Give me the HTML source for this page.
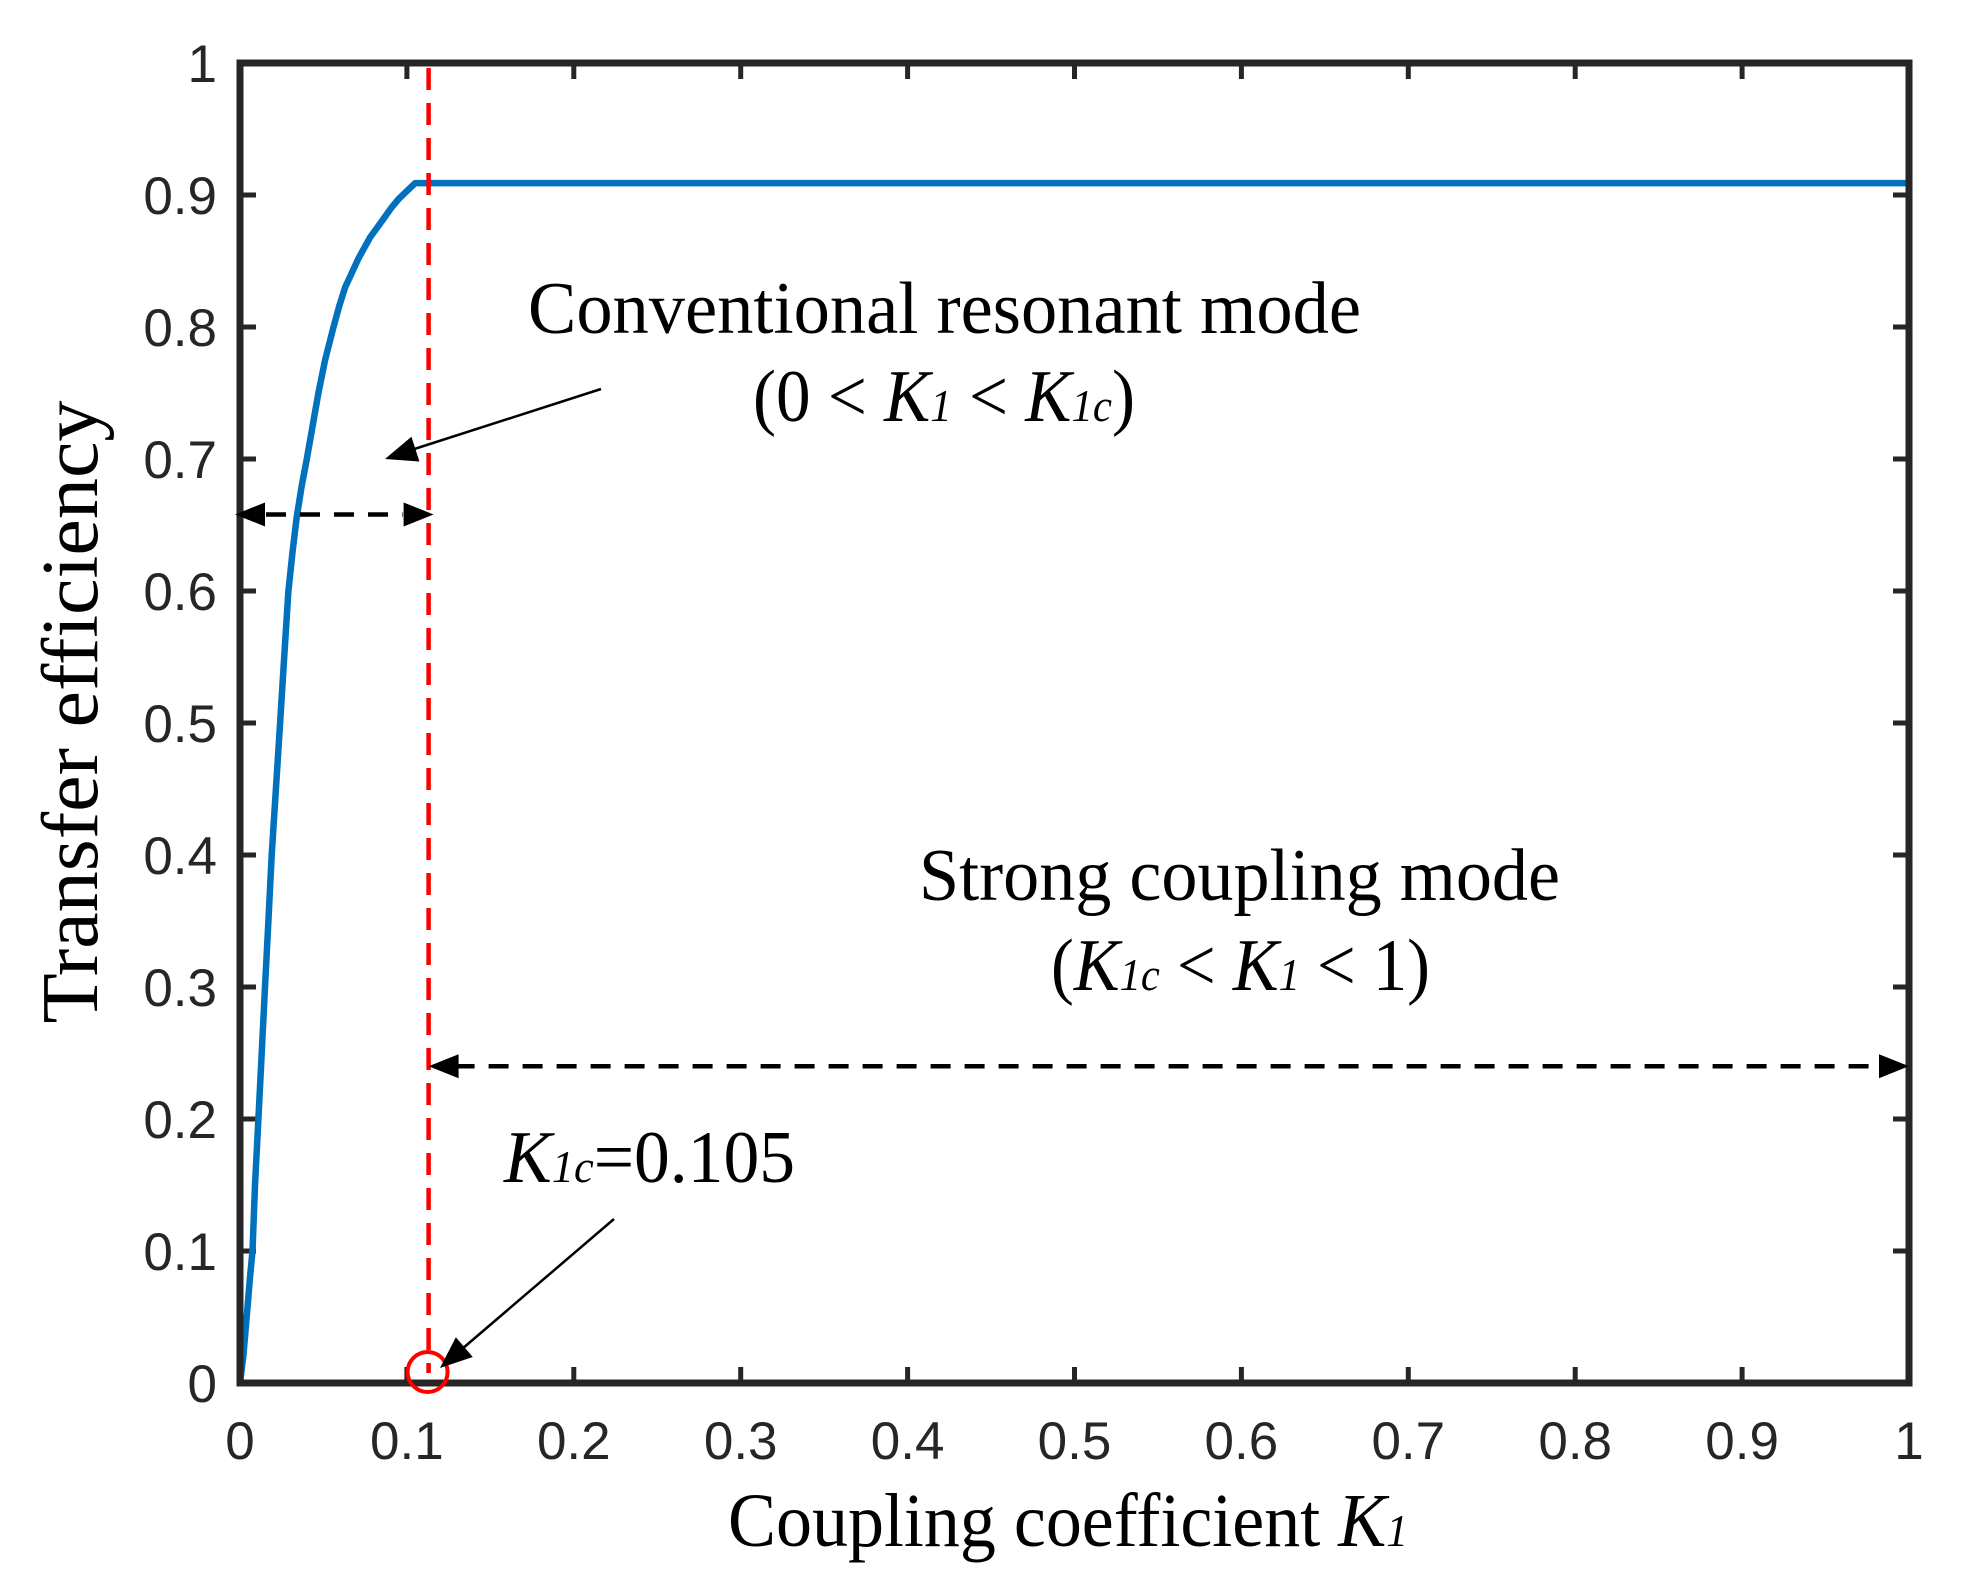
<!DOCTYPE html>
<html><head><meta charset="utf-8"><style>
html,body{margin:0;padding:0;background:#fff;}
svg{display:block;}
.tick{font-family:"Liberation Sans",Arial,sans-serif;font-size:53px;fill:#262626;}
.serif{font-family:"Liberation Serif","Times New Roman",serif;fill:#000;}
</style></head><body>
<svg id="chart" width="1963" height="1580" viewBox="0 0 1963 1580" xmlns="http://www.w3.org/2000/svg">
<g id="plot"></g>
<text class="serif" x="528" y="333" font-size="74" textLength="833" lengthAdjust="spacingAndGlyphs">Conventional resonant mode</text>
<text class="serif" x="753" y="421" font-size="74" textLength="382" lengthAdjust="spacingAndGlyphs">(0 &lt; <tspan font-style="italic">K</tspan><tspan font-style="italic" font-size="46">1</tspan> &lt; <tspan font-style="italic">K</tspan><tspan font-style="italic" font-size="46">1c</tspan>)</text>
<text class="serif" x="919" y="900" font-size="74" textLength="641" lengthAdjust="spacingAndGlyphs">Strong coupling mode</text>
<text class="serif" x="1051" y="990" font-size="74" textLength="379" lengthAdjust="spacingAndGlyphs">(<tspan font-style="italic">K</tspan><tspan font-style="italic" font-size="46">1c</tspan> &lt; <tspan font-style="italic">K</tspan><tspan font-style="italic" font-size="46">1</tspan> &lt; 1)</text>
<text class="serif" x="504" y="1182" font-size="74" textLength="291" lengthAdjust="spacingAndGlyphs"><tspan font-style="italic">K</tspan><tspan font-style="italic" font-size="46">1c</tspan>=0.105</text>
<text class="serif" x="728" y="1546" font-size="76" textLength="680" lengthAdjust="spacingAndGlyphs">Coupling coefficient <tspan font-style="italic">K</tspan><tspan font-style="italic" font-size="46">1</tspan></text>
<text class="serif" transform="translate(97,712) rotate(-90)" text-anchor="middle" font-size="80" textLength="623" lengthAdjust="spacingAndGlyphs">Transfer efficiency</text>
</svg>
<script>
const xTicks = [0,0.1,0.2,0.3,0.4,0.5,0.6,0.7,0.8,0.9,1];
const yTicks = [0,0.1,0.2,0.3,0.4,0.5,0.6,0.7,0.8,0.9,1];
const xTickLabels = ["0","0.1","0.2","0.3","0.4","0.5","0.6","0.7","0.8","0.9","1"];
const yTickLabels = ["0","0.1","0.2","0.3","0.4","0.5","0.6","0.7","0.8","0.9","1"];
const kValues = [0,0.002,0.004,0.006,0.0075,0.009,0.011,0.013,0.015,0.017,0.019,0.0215,0.024,0.0265,0.029,0.0315,0.034,0.037,0.04,0.0435,0.047,0.051,0.056,0.0595,0.063,0.067,0.071,0.0745,0.078,0.082,0.086,0.0905,0.095,0.1,0.105,0.2,0.4,0.6,0.8,1];
const effValues = [0,0.02,0.05,0.08,0.1,0.15,0.2,0.25,0.3,0.35,0.4,0.45,0.5,0.55,0.6,0.63,0.656,0.68,0.7,0.725,0.75,0.775,0.8,0.816,0.83,0.841,0.852,0.86,0.868,0.875,0.882,0.89,0.897,0.903,0.909,0.909,0.909,0.909,0.909,0.909];
const criticalK = [0.113];
const convArrowY = [0.658];
const strongArrowY = [0.24];

const L=240,R=1909,T=63,B=1383;
const xs=v=>L+v*(R-L);
const ys=v=>B-v*(B-T);
const NS="http://www.w3.org/2000/svg";
const g=document.getElementById('plot');
function mk(tag,attrs,parent){const e=document.createElementNS(NS,tag);for(const k in attrs)e.setAttribute(k,attrs[k]);(parent||g).appendChild(e);return e;}
function head(x1,y1,x2,y2,len,hw){
  const dx=x2-x1,dy=y2-y1,d=Math.hypot(dx,dy),ux=dx/d,uy=dy/d;
  const bx=x2-ux*len,by=y2-uy*len;
  return `${x2},${y2} ${bx-uy*hw},${by+ux*hw} ${bx+uy*hw},${by-ux*hw}`;
}

xTicks.forEach((v,i)=>{
  const t1=mk('line',{x1:xs(v),x2:xs(v),y1:B,y2:B-16,stroke:'#262626','stroke-width':5});
  
  
  const t2=mk('line',{x1:xs(v),x2:xs(v),y1:T,y2:T+16,stroke:'#262626','stroke-width':5});
  
  
  const tx=mk('text',{x:xs(v),y:1459,'text-anchor':'middle',class:'tick'});
  tx.textContent=xTickLabels[i];
  
  
});
yTicks.forEach((v,i)=>{
  const t1=mk('line',{x1:L,x2:L+16,y1:ys(v),y2:ys(v),stroke:'#262626','stroke-width':5});
  
  
  const t2=mk('line',{x1:R,x2:R-16,y1:ys(v),y2:ys(v),stroke:'#262626','stroke-width':5});
  
  
  const tx=mk('text',{x:217,y:ys(v)+19,'text-anchor':'end',class:'tick'});
  tx.textContent=yTickLabels[i];
  
  
});

const pts=kValues.map((k,i)=>xs(k).toFixed(1)+','+ys(effValues[i]).toFixed(1)).join(' ');
const curve=mk('polyline',{points:pts,fill:'none',stroke:'#0072BD','stroke-width':6.5,'stroke-linejoin':'round'});



const cx=xs(criticalK[0]);
const red=mk('line',{x1:cx,x2:cx,y1:T+5,y2:B-10,stroke:'#FF0000','stroke-width':4.5,'stroke-dasharray':'22,13'});



const box=mk('rect',{x:L,y:T,width:R-L,height:B-T,fill:'none',stroke:'#262626','stroke-width':7});



const circ=mk('ellipse',{cx:cx-1,cy:1372,rx:20,ry:20,fill:'none',stroke:'#FF0000','stroke-width':4});



// double arrows
const y1=ys(convArrowY[0]);
const a1=mk('line',{x1:L+26,x2:cx-26,y1:y1,y2:y1,stroke:'#000','stroke-width':4.5,'stroke-dasharray':'20,14'});


const h1=mk('polygon',{points:head(cx,y1,L-5,y1,30,12),fill:'#000'});


const h2=mk('polygon',{points:head(L,y1,cx+5,y1,30,12),fill:'#000'});


const y2=ys(strongArrowY[0]);
const a2=mk('line',{x1:cx+26,x2:R-26,y1:y2,y2:y2,stroke:'#000','stroke-width':4.5,'stroke-dasharray':'20,14'});


const h3=mk('polygon',{points:head(R,y2,cx,y2,30,12),fill:'#000'});


const h4=mk('polygon',{points:head(cx,y2,R,y2,30,12),fill:'#000'});



// pointer arrows
const p1=mk('line',{x1:601,y1:389,x2:405,y2:452,stroke:'#000','stroke-width':2.5});


const ph1=mk('polygon',{points:head(601,389,385,459,32,13),fill:'#000'});


const p2=mk('line',{x1:614,y1:1219,x2:455,y2:1355,stroke:'#000','stroke-width':2.5});


const ph2=mk('polygon',{points:head(614,1219,440,1368,32,13),fill:'#000'});


</script>
</body></html>
